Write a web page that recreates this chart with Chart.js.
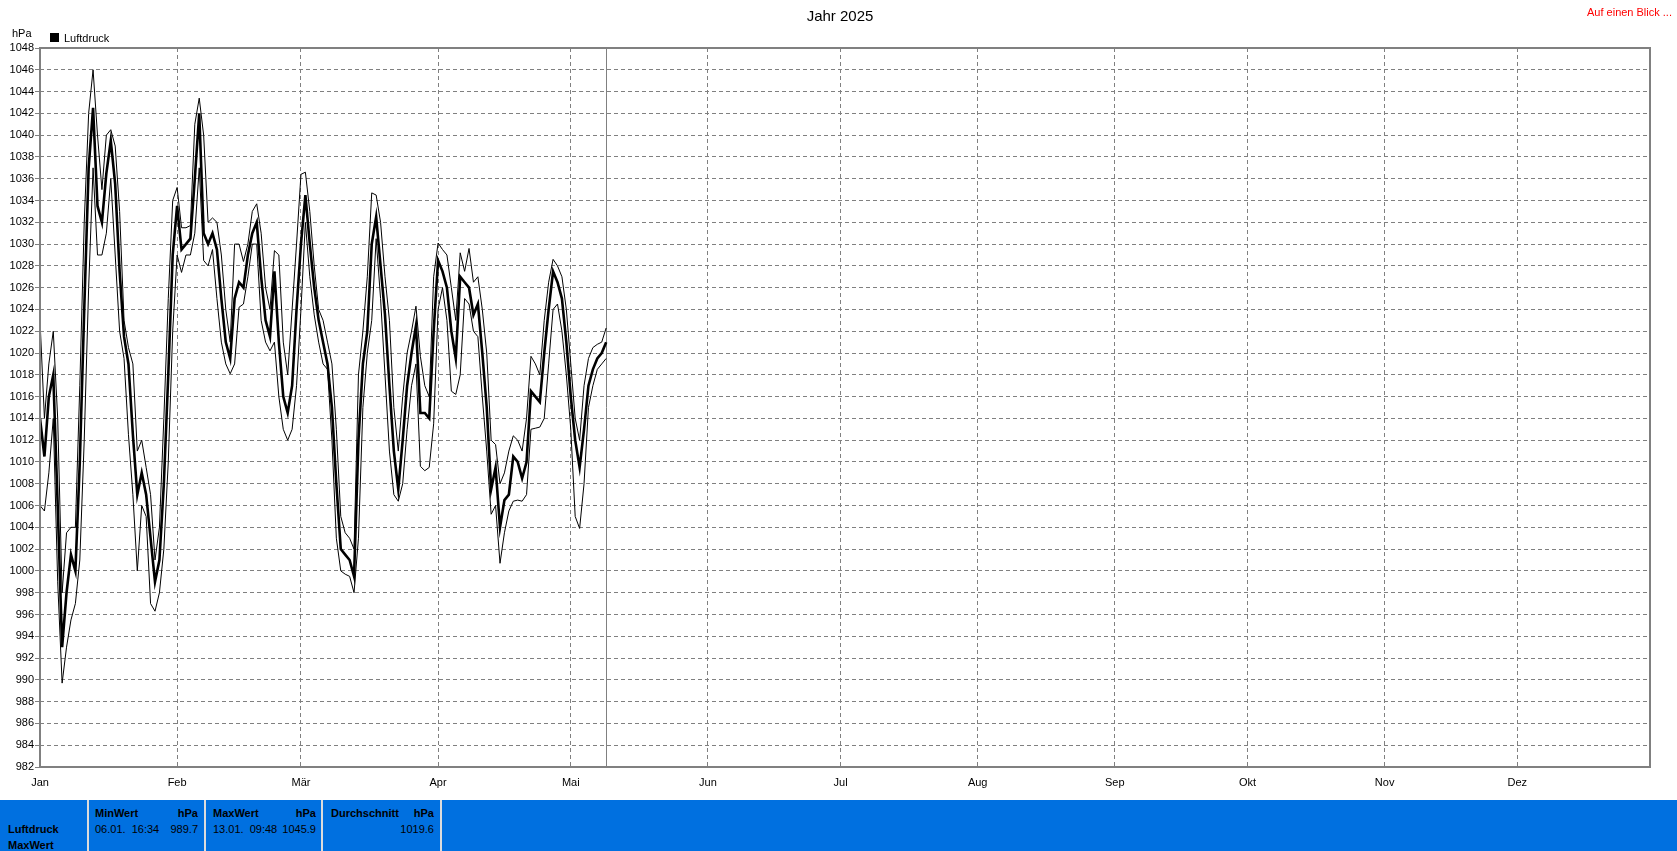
<!DOCTYPE html>
<html>
<head>
<meta charset="utf-8">
<script src="https://cdn.jsdelivr.net/npm/chart.js@4.4.0/dist/chart.umd.min.js"></script>
<style>
  html, body { margin: 0; padding: 0; background: #fff; }
  body { width: 1677px; height: 851px; position: relative; overflow: hidden;
         font-family: "Liberation Sans", Arial, sans-serif; font-size: 11px; color: #000; }
  #wrap { position: absolute; left: 0; top: 0; width: 1677px; height: 799px; }
  .txt { position: absolute; white-space: nowrap; line-height: 1; }
  #title { left: 0; width: 1680px; top: 8px; text-align: center; font-size: 15px; }
  #blick { right: 5px; top: 7px; color: #ff0000; }
  #unit { left: 12px; top: 28px; }
  #legBox { position: absolute; left: 50px; top: 33px; width: 9px; height: 9px; background: #000; }
  #legTxt { left: 64px; top: 33px; }
  #panel { position: absolute; left: 0; top: 800px; width: 1677px; height: 51px; background: rgb(0,112,224); }
  .sep { position: absolute; top: 0; width: 2px; height: 51px; background: #dcdcdc; }
  .b { font-weight: bold; }
  .r { text-align: right; }
</style>
</head>
<body>
<div id="wrap"><canvas id="chart" width="1677" height="799"></canvas></div>

<div class="txt" id="title">Jahr 2025</div>
<div class="txt" id="blick">Auf einen Blick ...</div>
<div class="txt" id="unit">hPa</div>
<div id="legBox"></div>
<div class="txt" id="legTxt">Luftdruck</div>

<div id="panel">
  <div class="sep" style="left:87px"></div>
  <div class="sep" style="left:204px"></div>
  <div class="sep" style="left:321px"></div>
  <div class="sep" style="left:440px"></div>

  <div class="txt b" style="left:8px; top:24px">Luftdruck</div>
  <div class="txt b" style="left:8px; top:40px">MaxWert</div>

  <div class="txt b" style="left:95px; top:8px">MinWert</div>
  <div class="txt b r" style="left:150px; width:48px; top:8px">hPa</div>
  <div class="txt" style="left:95px; top:24px">06.01.&nbsp;&nbsp;16:34</div>
  <div class="txt r" style="left:150px; width:48px; top:24px">989.7</div>

  <div class="txt b" style="left:213px; top:8px">MaxWert</div>
  <div class="txt b r" style="left:268px; width:48px; top:8px">hPa</div>
  <div class="txt" style="left:213px; top:24px">13.01.&nbsp;&nbsp;09:48</div>
  <div class="txt r" style="left:268px; width:48px; top:24px">1045.9</div>

  <div class="txt b" style="left:331px; top:8px">Durchschnitt</div>
  <div class="txt b r" style="left:386px; width:48px; top:8px">hPa</div>
  <div class="txt r" style="left:386px; width:48px; top:24px">1019.6</div>
</div>

<script>
// Tag im Jahr (0 = 01.01.)
const days = [0,1,2,3,4,5,6,7,8,9,10,11,12,13,14,15,16,17,18,19,20,21,22,23,24,25,26,27,28,29,
  30,31,32,33,34,35,36,37,38,39,40,41,42,43,44,45,46,47,48,49,50,51,52,53,54,55,56,57,58,59,
  60,61,62,63,64,65,66,67,68,69,70,71,72,73,74,75,76,77,78,79,80,81,82,83,84,85,86,87,88,89,
  90,91,92,93,94,95,96,97,98,99,100,101,102,103,104,105,106,107,108,109,110,111,112,113,114,
  115,116,117,118,119,120,121,122,123,124,125,126,127,128];

// Tagesmittel Luftdruck (dicke Linie)
const druckMittel = [1014,1010.5,1016,1018,1006,993,998,1001.5,1000,1010,
  1024,1037,1042.5,1033.5,1032,1036.5,1039.5,1035.5,1027.5,1021.5,
  1019,1012.5,1007,1009,1007,1003,999,1001,1008,1018,
  1029,1033.5,1029.5,1030,1030.5,1036,1042,1031,1030,1031,
  1029.5,1025,1021,1019.5,1025,1026.5,1026,1029,1031,1032,
  1027,1023,1021.5,1027.5,1021,1016,1014.5,1017,1024,1030,
  1034.5,1030,1026,1023,1021,1019,1015,1008,1002,1001.5,
  1001,999.5,1012,1019,1022,1030,1032.5,1028,1023.5,1017,
  1011,1007.5,1012,1017,1020,1022.5,1014.5,1014.5,1014,1022,
  1028.5,1027.5,1026,1022,1019.5,1027,1026.5,1026,1023.5,1024.5,
  1020,1015,1007.5,1009.5,1004,1006.5,1007,1010.5,1010,1008.5,
  1010,1016.5,1016,1015.5,1020,1024,1027.5,1026.5,1025,1021,
  1016,1012,1009.5,1013,1017,1018.5,1019.5,1020,1021];

// Tagesmaximum
const druckMax = [1023,1014,1019,1022,1014,998,1003.5,1004,1004,1017,
  1032,1042,1046,1040,1035,1040,1040.5,1039,1033,1023,
  1020.5,1019,1011,1012,1009.5,1007,1001,1004,1014,1025,
  1034,1035.2,1031.5,1031.5,1031.7,1041,1043.4,1040,1032,1032.4,
  1032,1029,1024,1021,1030,1030,1028.4,1030,1033,1033.7,
  1031,1026,1024,1029.4,1029,1021,1018,1024,1030,1036.4,
  1036.6,1033,1028,1024,1023,1021,1019,1013,1005,1003.5,
  1003,1002,1018,1022,1027,1034.7,1034.5,1032,1027,1023,
  1015,1011,1016,1020,1022,1024.3,1019.7,1017,1016,1027,
  1030.1,1029.5,1029,1026,1023,1029.2,1027.5,1029.6,1026.5,1027,
  1024,1020,1012,1011.6,1008,1009,1011,1012.4,1012,1011,
  1014,1019.7,1019,1018,1023,1026.5,1028.6,1028,1027,1024,
  1019,1014,1012,1017,1019.5,1020.5,1020.8,1021,1022.3];

// Tagesminimum
const druckMin = [1006,1005.5,1009,1014,999,989.7,993,995.5,997,1001,
  1012,1026,1037,1029,1029,1031,1036,1029,1022,1019.5,
  1012.5,1007,1000,1006,1005,997,996.3,998,1002,1010,
  1022,1029,1027.4,1029,1029,1031,1037,1028.5,1028,1029.5,
  1025,1021,1019,1018.1,1019,1024.2,1024.5,1027,1030,1030,
  1023,1021,1020.2,1021,1016,1013,1012,1013,1017,1024,
  1032,1027,1023.5,1021,1019,1018.5,1012,1003,1000,999.7,
  999.5,998,1003,1015,1020,1023,1030.5,1025,1018,1011,
  1007,1006.4,1008,1013,1017,1019,1009.6,1009.2,1009.5,1013.5,
  1024,1026,1023,1016.5,1016.2,1018,1025,1024.5,1022,1021.5,
  1016,1011,1005.2,1006,1000.7,1003.5,1005.5,1006.4,1006.5,1006.4,
  1007,1013,1013.1,1013.2,1014,1019,1024,1024.5,1022,1018,
  1013,1005,1003.9,1008,1015,1017,1018.5,1019,1019.5];

const monatsStart = [0,31,59,90,120,151,181,212,243,273,304,334];
const monatsNamen = ['Jan','Feb','Mär','Apr','Mai','Jun','Jul','Aug','Sep','Okt','Nov','Dez'];
const heute = 128;
const yMin = 982, yMax = 1048, yStep = 2;

const FONT = '"Liberation Sans", Arial, sans-serif';

function toXY(vals) {
    return days.map((d, i) => ({ x: d, y: vals[i] }));
}

// Rahmen um die Zeichenfläche und Linie für "heute"
const rahmenPlugin = {
    id: 'rahmen',
    beforeDatasetsDraw(chart) {
        const { ctx, chartArea, scales } = chart;
        const x = Math.round(scales.x.getPixelForValue(heute)) + 0.5;
        ctx.save();
        ctx.strokeStyle = '#808080';
        ctx.lineWidth = 1;
        ctx.beginPath();
        ctx.moveTo(x, chartArea.top);
        ctx.lineTo(x, chartArea.bottom);
        ctx.stroke();
        ctx.restore();
    },
    afterDraw(chart) {
        const { ctx, chartArea } = chart;
        ctx.save();
        ctx.strokeStyle = '#808080';
        ctx.lineWidth = 2;
        ctx.strokeRect(chartArea.left, chartArea.top,
            chartArea.right - chartArea.left, chartArea.bottom - chartArea.top);
        ctx.restore();
    }
};

new Chart(document.getElementById('chart').getContext('2d'), {
    type: 'line',
    data: {
        datasets: [
            { label: 'Max', data: toXY(druckMax), borderColor: '#000', borderWidth: 1,
              pointRadius: 0, tension: 0, fill: false, order: 2 },
            { label: 'Min', data: toXY(druckMin), borderColor: '#000', borderWidth: 1,
              pointRadius: 0, tension: 0, fill: false, order: 3 },
            { label: 'Luftdruck', data: toXY(druckMittel), borderColor: '#000', borderWidth: 2.6,
              pointRadius: 0, tension: 0, fill: false, order: 1 }
        ]
    },
    options: {
        responsive: false,
        animation: false,
        devicePixelRatio: 1,
        layout: { padding: { top: 48, right: 27, left: 0, bottom: 0 } },
        plugins: { legend: { display: false }, title: { display: false }, tooltip: { enabled: false } },
        scales: {
            x: {
                type: 'linear', min: 0, max: 364,
                afterFit(scale) { scale.height = 32; },
                afterBuildTicks(scale) { scale.ticks = monatsStart.map(v => ({ value: v })); },
                grid: { color: '#808080', lineWidth: 1, drawTicks: false },
                border: { display: false, dash: [4, 3] },
                ticks: {
                    autoSkip: false, maxRotation: 0, padding: 9, color: '#000',
                    font: { family: FONT, size: 11 },
                    callback: (v) => monatsNamen[monatsStart.indexOf(v)]
                }
            },
            y: {
                type: 'linear', min: yMin, max: yMax,
                afterFit(scale) { scale.width = 40; },
                grid: { color: '#808080', lineWidth: 1, drawTicks: true, tickLength: 5,
                        tickColor: '#808080' },
                border: { display: false, dash: [4, 3] },
                ticks: {
                    stepSize: yStep, autoSkip: false, padding: 1, color: '#000',
                    font: { family: FONT, size: 11 },
                    callback: (v) => String(v)
                }
            }
        }
    },
    plugins: [rahmenPlugin]
});
</script>
</body>
</html>
